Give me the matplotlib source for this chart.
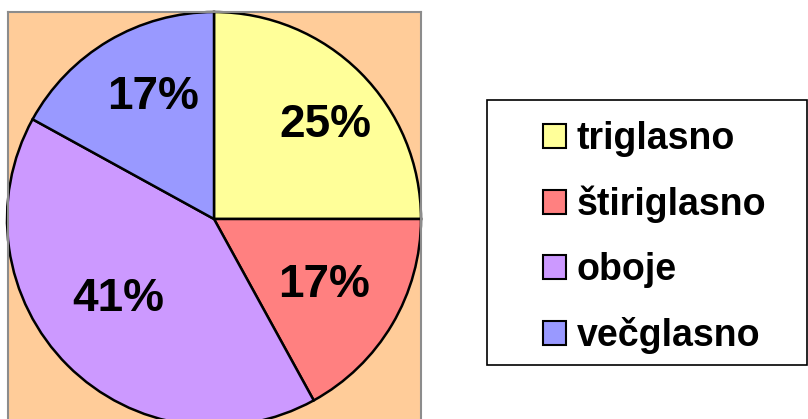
import numpy as np
import matplotlib
matplotlib.use('Agg')
import matplotlib.pyplot as plt
from matplotlib.patches import Rectangle

plt.rcParams['font.family'] = ['Liberation Sans', 'DejaVu Sans']
plt.rcParams['font.weight'] = 'bold'

categories = ['triglasno', 'štiriglasno', 'oboje', 'večglasno']
shares = [25, 17, 41, 17]
colors = ['#FFFF99', '#FF8080', '#CC99FF', '#9999FF']

W, H = 808, 419
fig = plt.figure(figsize=(W / 100, H / 100), dpi=100)
fig.patch.set_facecolor('white')

# plot area in pixels: x 8..421, y 12..430 (runs off the bottom)
px0, px1, py0, py1 = 8, 421, 12, 430
ax = fig.add_axes([px0 / W, (H - py1) / H, (px1 - px0) / W, (py1 - py0) / H])
ax.set_facecolor('#FFCC99')

cx, cy, R = 214, 219, 207

wedges, texts, autotexts = ax.pie(
    shares, colors=colors, startangle=90, counterclock=False,
    autopct='%1.0f%%', pctdistance=0.65,
    wedgeprops=dict(edgecolor='black', linewidth=1.8),
    textprops=dict(fontsize=33, fontweight='bold', color='black'),
    frame=True)
ax.set_xlim((px0 - cx) / R, (px1 - cx) / R)
ax.set_ylim((cy - py1) / R, (cy - py0) / R)
ax.set_aspect('auto')
ax.set_xticks([])
ax.set_yticks([])
for sp in ax.spines.values():
    sp.set_color('#8C8C8C')
    sp.set_linewidth(1.5)

# label placement (distance from centre, angle shift) as Excel places them
dists = [0.703, 0.620, 0.604, 0.659]
shifts = [-4.7, -0.4, -5.2, -4.0]
for w, t, d, s in zip(wedges, autotexts, dists, shifts):
    ang = np.deg2rad((w.theta1 + w.theta2) / 2 + s)
    t.set_position((d * np.cos(ang), d * np.sin(ang)))
    t.set_ha('center')
    t.set_va('center')

# legend frame
fig.patches.append(Rectangle((487 / W, (H - 365) / H), (807 - 487) / W, (365 - 100) / H,
                             transform=fig.transFigure, facecolor='white',
                             edgecolor='black', linewidth=1.2, zorder=0))

leg = fig.legend(wedges, categories, loc='upper left',
                 bbox_to_anchor=(543 / W, (H - 121) / H),
                 frameon=False, handlelength=0.6, handleheight=0.6,
                 handletextpad=0.3, labelspacing=0.77, borderpad=0, borderaxespad=0,
                 prop=dict(weight='bold', size=27))
for h in leg.legend_handles:
    h.set_linewidth(1.5)
    h.set_edgecolor('black')

fig.savefig('out.png', dpi=100)
